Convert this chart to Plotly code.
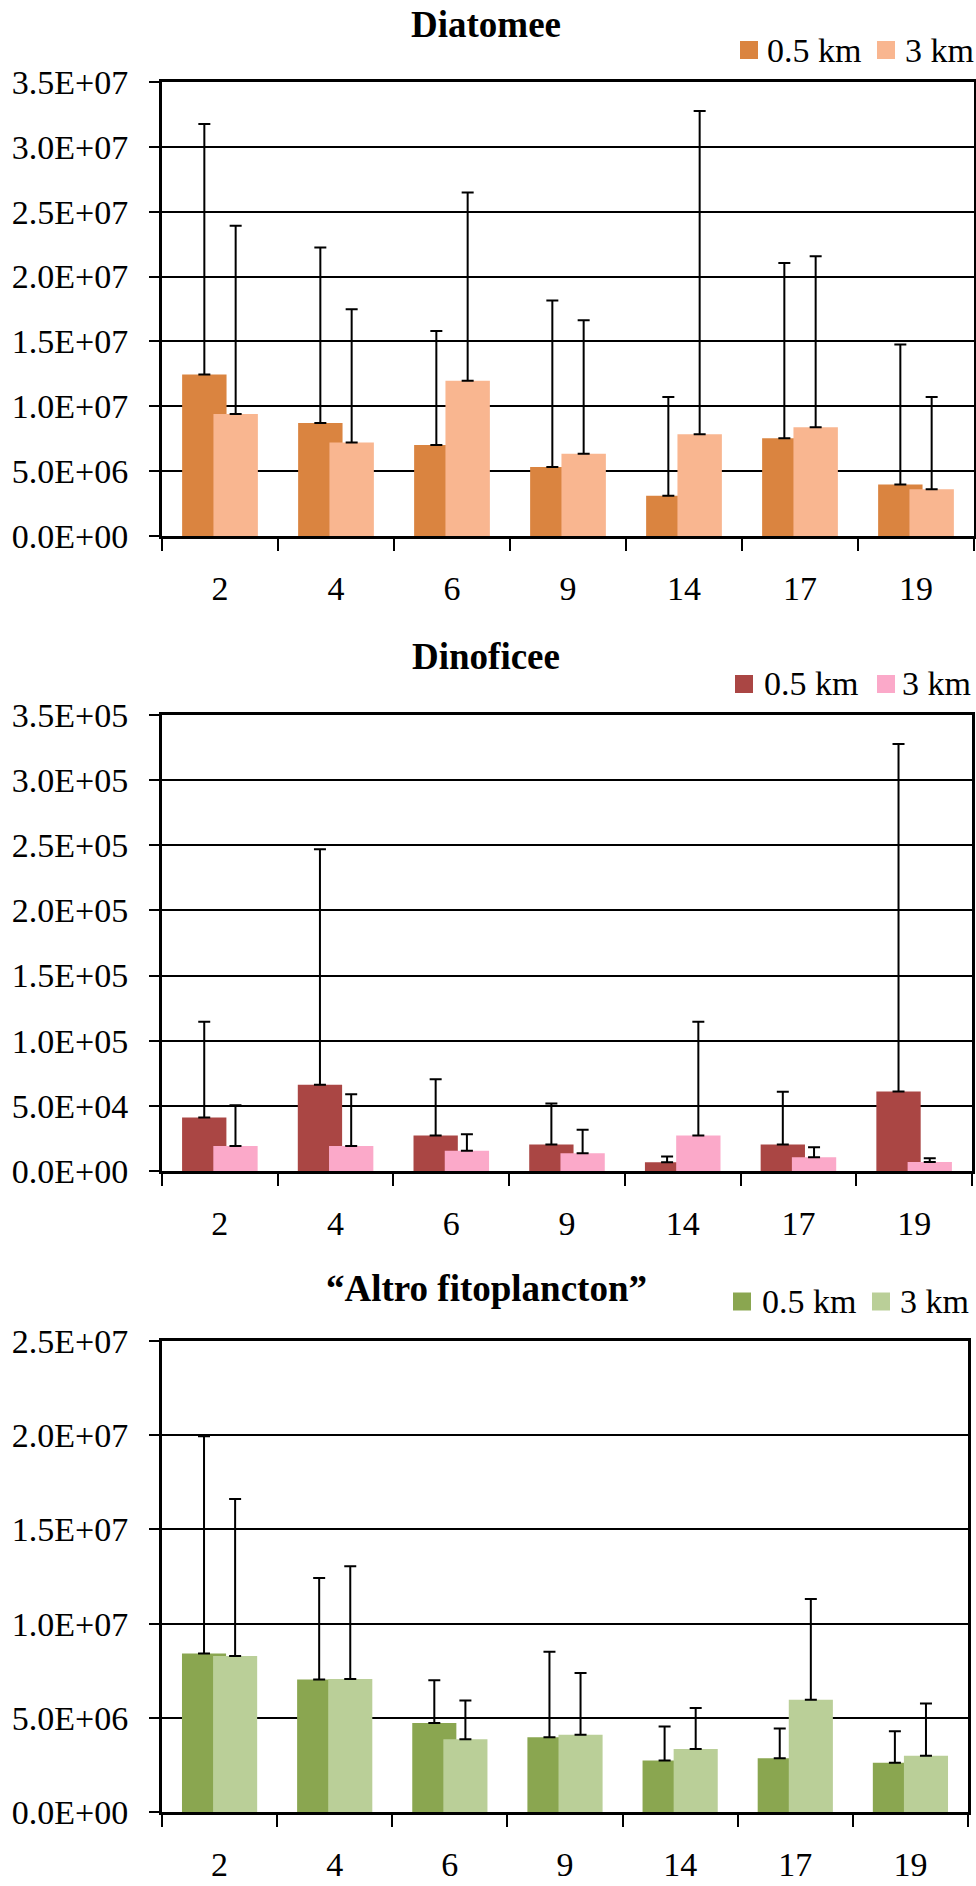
import plotly.graph_objects as go

# ---------------- data ----------------
categories = ["2", "4", "6", "9", "14", "17", "19"]
series_names = ["0.5 km", "3 km"]

diatomee_05 = [1.245e7, 8.72e6, 7.02e6, 5.31e6, 3.11e6, 7.53e6, 3.97e6]
diatomee_3 = [9.40e6, 7.20e6, 1.196e7, 6.35e6, 7.84e6, 8.39e6, 3.60e6]
diatomee_05_sd = [1.931e7, 1.352e7, 8.78e6, 1.284e7, 7.60e6, 1.352e7, 1.079e7]
diatomee_3_sd = [1.452e7, 1.028e7, 1.452e7, 1.028e7, 2.492e7, 1.318e7, 7.11e6]

dinoficee_05 = [4.10e4, 6.62e4, 2.73e4, 2.04e4, 6.7e3, 2.04e4, 6.10e4]
dinoficee_3 = [1.91e4, 1.91e4, 1.55e4, 1.37e4, 2.73e4, 1.06e4, 7.0e3]
dinoficee_05_sd = [7.35e4, 1.808e5, 4.32e4, 3.15e4, 4.5e3, 4.04e4, 2.668e5]
dinoficee_3_sd = [3.13e4, 3.98e4, 1.28e4, 1.79e4, 8.72e4, 7.6e3, 2.7e3]

altro_05 = [8.41e6, 7.03e6, 4.73e6, 3.97e6, 2.74e6, 2.85e6, 2.61e6]
altro_3 = [8.28e6, 7.06e6, 3.86e6, 4.10e6, 3.35e6, 5.96e6, 2.98e6]
altro_05_sd = [1.153e7, 5.39e6, 2.26e6, 4.53e6, 1.80e6, 1.58e6, 1.68e6]
altro_3_sd = [8.33e6, 5.98e6, 2.06e6, 3.28e6, 2.17e6, 5.35e6, 2.78e6]

titles = ["Diatomee", "Dinoficee", "\u201cAltro fitoplancton\u201d"]

diatomee_ticks = [0, 5e6, 1e7, 1.5e7, 2e7, 2.5e7, 3e7, 3.5e7]
diatomee_ticktext = ["0.0E+00", "5.0E+06", "1.0E+07", "1.5E+07", "2.0E+07",
                     "2.5E+07", "3.0E+07", "3.5E+07"]
dinoficee_ticks = [0, 5e4, 1e5, 1.5e5, 2e5, 2.5e5, 3e5, 3.5e5]
dinoficee_ticktext = ["0.0E+00", "5.0E+04", "1.0E+05", "1.5E+05", "2.0E+05",
                      "2.5E+05", "3.0E+05", "3.5E+05"]
altro_ticks = [0, 5e6, 1e7, 1.5e7, 2e7, 2.5e7]
altro_ticktext = ["0.0E+00", "5.0E+06", "1.0E+07", "1.5E+07", "2.0E+07", "2.5E+07"]

# ---------------- layout helpers ----------------
W, H = 976, 1886
FONT = "Liberation Serif, Times New Roman, serif"


def py(px):
    return 1 - px / H


def pxx(px):
    return px / W


charts = [
    dict(v05=diatomee_05, v3=diatomee_3, e05=diatomee_05_sd, e3=diatomee_3_sd,
         ticks=diatomee_ticks, ticktext=diatomee_ticktext, ymax=3.5e7,
         colors=["#DA8440", "#F9B690"], top=82, bottom=536, right=974,
         title_y=24.5, leg_y=50, leg_x=[740, 767, 877, 905]),
    dict(v05=dinoficee_05, v3=dinoficee_3, e05=dinoficee_05_sd, e3=dinoficee_3_sd,
         ticks=dinoficee_ticks, ticktext=dinoficee_ticktext, ymax=3.5e5,
         colors=["#AA4644", "#FBA9C9"], top=715, bottom=1171, right=972,
         title_y=656, leg_y=684, leg_x=[735, 764, 877, 902]),
    dict(v05=altro_05, v3=altro_3, e05=altro_05_sd, e3=altro_3_sd,
         ticks=altro_ticks, ticktext=altro_ticktext, ymax=2.5e7,
         colors=["#8AA650", "#BACF98"], top=1341, bottom=1812, right=968,
         title_y=1288.5, leg_y=1301.5, leg_x=[733, 762, 872, 900]),
]

BAR_W = 0.383
HALF_SHIFT = 0.135

fig = go.Figure()
shapes = []
annotations = []

for i, c in enumerate(charts):
    xa = "x" if i == 0 else f"x{i+1}"
    ya = "y" if i == 0 else f"y{i+1}"
    for j, (vals, errs) in enumerate([(c["v05"], c["e05"]), (c["v3"], c["e3"])]):
        shift = -HALF_SHIFT if j == 0 else HALF_SHIFT
        fig.add_trace(go.Bar(
            x=categories, y=vals, name=series_names[j],
            marker=dict(color=c["colors"][j], line=dict(width=0)),
            width=BAR_W, offset=shift - BAR_W / 2,
            error_y=dict(type="data", array=errs, symmetric=False,
                         arrayminus=[0] * len(errs),
                         color="black", thickness=2, width=6),
            xaxis=xa, yaxis=ya, showlegend=False,
        ))

    ax_kw = dict(
        domain=[pxx(162), pxx(c["right"])],
        type="category", range=[-0.5, 6.5],
        showline=True, linecolor="black", linewidth=3, mirror=True,
        ticks="outside", tickson="boundaries", ticklen=12, tickwidth=2,
        tickcolor="black", showgrid=False, zeroline=False,
        tickfont=dict(family=FONT, size=34, color="black"),
        ticklabelstandoff=20, automargin=False,
        anchor=ya,
    )
    ay_kw = dict(
        domain=[py(c["bottom"]), py(c["top"])],
        range=[0, c["ymax"]],
        tickvals=c["ticks"], ticktext=c["ticktext"],
        showline=True, linecolor="black", linewidth=3, mirror=True,
        ticks="outside", ticklen=10, tickwidth=2, tickcolor="black",
        showgrid=True, gridcolor="black", gridwidth=2, zeroline=False,
        tickfont=dict(family=FONT, size=34, color="black"),
        ticklabelstandoff=14, automargin=False,
        anchor=xa,
    )
    fig.update_layout(**{("xaxis" if i == 0 else f"xaxis{i+1}"): ax_kw,
                         ("yaxis" if i == 0 else f"yaxis{i+1}"): ay_kw})

    # title
    annotations.append(dict(
        text=f"<b>{titles[i]}</b>", xref="paper", yref="paper",
        x=pxx(486), y=py(c["title_y"]), xanchor="center", yanchor="middle",
        showarrow=False, font=dict(family=FONT, size=37, color="black"),
    ))
    # legend (squares + labels)
    lx = c["leg_x"]
    for j in range(2):
        sq = lx[2 * j]
        shapes.append(dict(
            type="rect", xref="paper", yref="paper",
            x0=pxx(sq), x1=pxx(sq + 18),
            y0=py(c["leg_y"] + 9), y1=py(c["leg_y"] - 9),
            fillcolor=c["colors"][j], line=dict(width=0),
        ))
        annotations.append(dict(
            text=series_names[j], xref="paper", yref="paper",
            x=pxx(lx[2 * j + 1] - 2), y=py(c["leg_y"]),
            xanchor="left", yanchor="middle", showarrow=False,
            font=dict(family=FONT, size=34, color="black"),
        ))

fig.update_layout(
    width=W, height=H,
    margin=dict(l=0, r=0, t=0, b=0, autoexpand=False),
    paper_bgcolor="white", plot_bgcolor="white",
    barmode="overlay",
    showlegend=False,
    shapes=shapes, annotations=annotations,
    font=dict(family=FONT, color="black"),
)

fig.write_html("out.html")
